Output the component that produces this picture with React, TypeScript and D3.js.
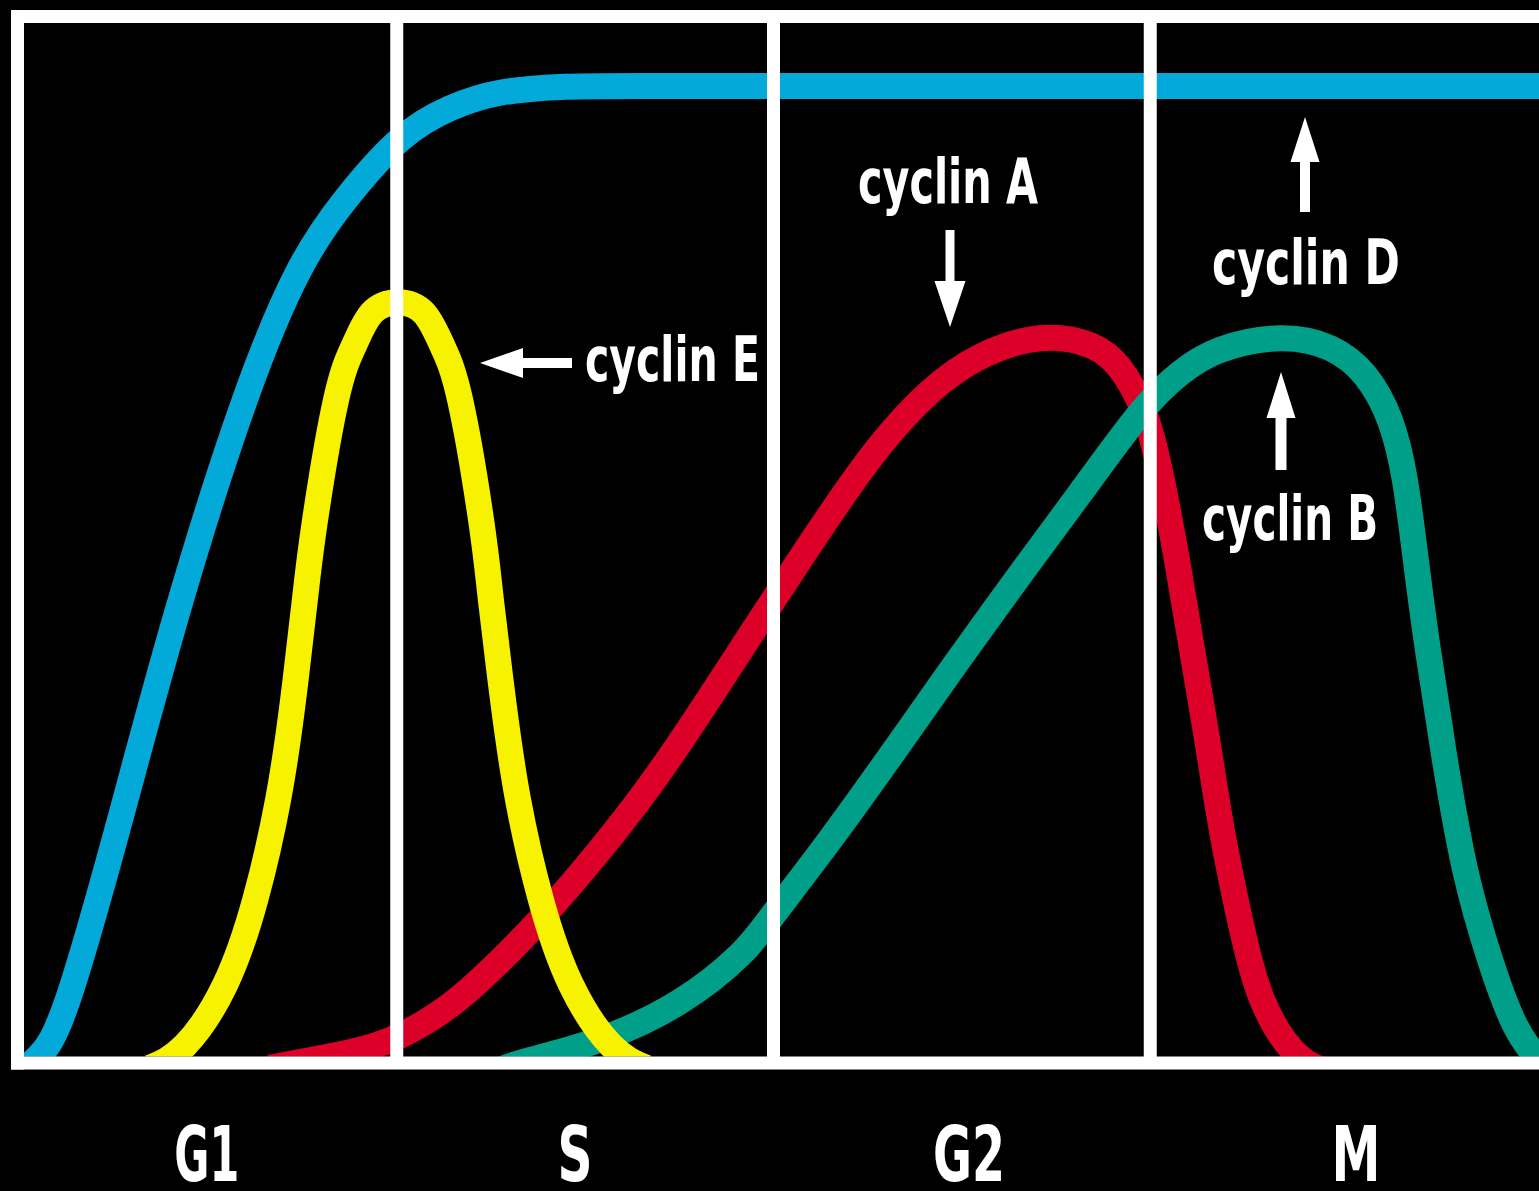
import React from "react";
import * as d3 from "d3";

// x: cell-cycle phase units (0..4 = G1, S, G2, M), y: relative level (0..100)
const phases = ["G1", "S", "G2", "M"];
const phaseLabelX = [0.496, 1.473, 2.519, 3.546];

const cyclinD: [number, number][] = [
  [0.0, -1.5], [0.053, 0.5], [0.127, 6.2], [0.265, 24.6], [0.419, 46.2], [0.597, 67.8],
  [0.741, 81.1], [0.863, 88.3], [1.009, 94.5], [1.141, 97.7], [1.274, 99.3], [1.433, 99.9],
  [1.646, 100], [2.2, 100], [2.8, 100], [3.4, 100], [4.05, 100],
];

const cyclinE: [number, number][] = [
  [0.345, -0.8], [0.438, 1.5], [0.544, 7.7], [0.624, 16.4], [0.685, 26.7], [0.725, 37.0],
  [0.756, 47.2], [0.783, 55.4], [0.839, 67.8], [0.887, 73.4], [0.934, 76.7], [1.003, 77.8],
  [1.072, 76.7], [1.12, 73.4], [1.168, 67.8], [1.224, 55.4], [1.25, 47.2], [1.282, 37.0],
  [1.322, 26.7], [1.383, 16.4], [1.463, 7.7], [1.569, 1.5], [1.662, -0.8],
];

const cyclinA: [number, number][] = [
  [0.664, -0.8], [0.743, -0.2], [0.876, 0.8], [1.009, 2.5], [1.141, 5.6], [1.248, 9.2],
  [1.38, 14.4], [1.54, 21.6], [1.672, 28.2], [1.805, 35.7], [1.999, 47.2], [2.15, 56.0],
  [2.283, 63.1], [2.415, 68.6], [2.548, 72.2], [2.707, 74.1], [2.84, 73.4], [2.92, 71.0],
  [2.986, 66.2], [3.031, 59.5], [3.071, 51.3], [3.111, 42.1], [3.151, 32.9], [3.19, 23.6],
  [3.238, 14.4], [3.297, 6.2], [3.39, 0.5], [3.477, -1.2],
];

const cyclinB: [number, number][] = [
  [1.274, -1.0], [1.354, 0], [1.54, 2.1], [1.752, 6.0], [1.911, 10.8], [1.999, 14.9],
  [2.15, 22.6], [2.336, 32.6], [2.495, 41.3], [2.654, 49.8], [2.814, 58.2], [2.973, 66.4],
  [3.079, 70.5], [3.185, 72.9], [3.344, 74.1], [3.477, 73.1], [3.57, 70.3], [3.636, 65.7],
  [3.676, 59.5], [3.705, 51.3], [3.737, 42.1], [3.782, 30.8], [3.836, 19.5], [3.902, 10.3],
  [3.968, 3.6], [4.034, 0], [4.101, -2.1],
];

const seriesNames = ["cyclin D", "cyclin A", "cyclin B", "cyclin E"];
const seriesData = [cyclinD, cyclinA, cyclinB, cyclinE];
const seriesColors = ["#02a9d9", "#dc0029", "#009f8a", "#f6f200"];

const W = 1539;
const H = 1191;
const FONT = "'Liberation Sans Narrow', 'DejaVu Sans Condensed', 'Arial Narrow', sans-serif";

type Arrow = { tx: number; ty: number; dir: "left" | "up" | "down"; head: number; half: number; len: number; shaft: number };
const labels = [
  { text: "cyclin E", x: 585, y: 381, w: 175 },
  { text: "cyclin A", x: 858, y: 203, w: 180 },
  { text: "cyclin D", x: 1212, y: 284, w: 188 },
  { text: "cyclin B", x: 1202, y: 540, w: 176 },
];
const arrows: Arrow[] = [
  { tx: 480, ty: 363, dir: "left", head: 43, half: 15, len: 92, shaft: 10 },
  { tx: 950, ty: 327, dir: "down", head: 46, half: 15.5, len: 97, shaft: 9 },
  { tx: 1305, ty: 117, dir: "up", head: 45, half: 14.5, len: 95, shaft: 10 },
  { tx: 1281, ty: 372, dir: "up", head: 46, half: 14.5, len: 98, shaft: 11 },
];
const phaseWidths = [65, 35, 72, 49];

function arrowPath(a: Arrow): string {
  const { tx, ty, head, half, len, shaft } = a;
  const s = shaft / 2;
  const pts: [number, number][] = [
    [0, 0], [-head, -half], [-head, -s], [-len, -s], [-len, s], [-head, s], [-head, half],
  ];
  const ang = a.dir === "left" ? Math.PI : a.dir === "up" ? -Math.PI / 2 : Math.PI / 2;
  const c = Math.cos(ang), sn = Math.sin(ang);
  const p = d3.path();
  pts.forEach(([x, y], i) => {
    const X = tx + x * c - y * sn;
    const Y = ty + x * sn + y * c;
    if (i === 0) p.moveTo(X, Y);
    else p.lineTo(X, Y);
  });
  p.closePath();
  return p.toString();
}

export default function App() {
  const x = d3.scaleLinear().domain([0, 4]).range([20, 1527]);
  const y = d3.scaleLinear().domain([0, 100]).range([1060, 86]);
  const line = d3
    .line<[number, number]>()
    .x((d) => x(d[0]))
    .y((d) => y(d[1]))
    .curve(d3.curveNatural);

  const frameTop = 16.5;
  const frameBottom = 1063;
  const frameLeft = 17.5;
  const fw = 13;

  return (
    <svg
      width={W}
      height={H}
      style={{ position: "fixed", left: 0, top: 0, display: "block", background: "#000" }}
    >
      <defs>
        <clipPath id="plotClip">
          <rect x={frameLeft + fw / 2} y={frameTop + fw / 2} width={W} height={frameBottom - frameTop - fw} />
        </clipPath>
      </defs>
      <rect x={0} y={0} width={W} height={H} fill="#000" />
      <g clipPath="url(#plotClip)">
        {seriesData.map((s, i) => (
          <path
            key={seriesNames[i]}
            d={line(s) || ""}
            fill="none"
            stroke={seriesColors[i]}
            strokeWidth={26}
            strokeLinejoin="round"
          />
        ))}
      </g>
      <g stroke="#fff" strokeWidth={fw} fill="none">
        <line x1={frameLeft - fw / 2} x2={W + 5} y1={frameTop} y2={frameTop} />
        <line x1={frameLeft - fw / 2} x2={W + 5} y1={frameBottom} y2={frameBottom} />
        <line x1={frameLeft} x2={frameLeft} y1={frameTop - fw / 2} y2={frameBottom + fw / 2} />
        {[1, 2, 3].map((v) => (
          <line key={v} x1={x(v)} x2={x(v)} y1={frameTop} y2={frameBottom} />
        ))}
      </g>
      {arrows.map((a, i) => (
        <path key={i} d={arrowPath(a)} fill="#fff" />
      ))}
      {labels.map((l) => (
        <text
          key={l.text}
          x={l.x}
          y={l.y}
          fill="#fff"
          fontFamily={FONT}
          fontWeight="bold"
          fontSize={62}
          textLength={l.w}
          lengthAdjust="spacingAndGlyphs"
        >
          {l.text}
        </text>
      ))}
      {phases.map((p, i) => (
        <text
          key={p}
          x={x(phaseLabelX[i]) - phaseWidths[i] / 2}
          y={1181}
          fill="#fff"
          fontFamily={FONT}
          fontWeight="bold"
          fontSize={76}
          textLength={phaseWidths[i]}
          lengthAdjust="spacingAndGlyphs"
        >
          {p}
        </text>
      ))}
    </svg>
  );
}
